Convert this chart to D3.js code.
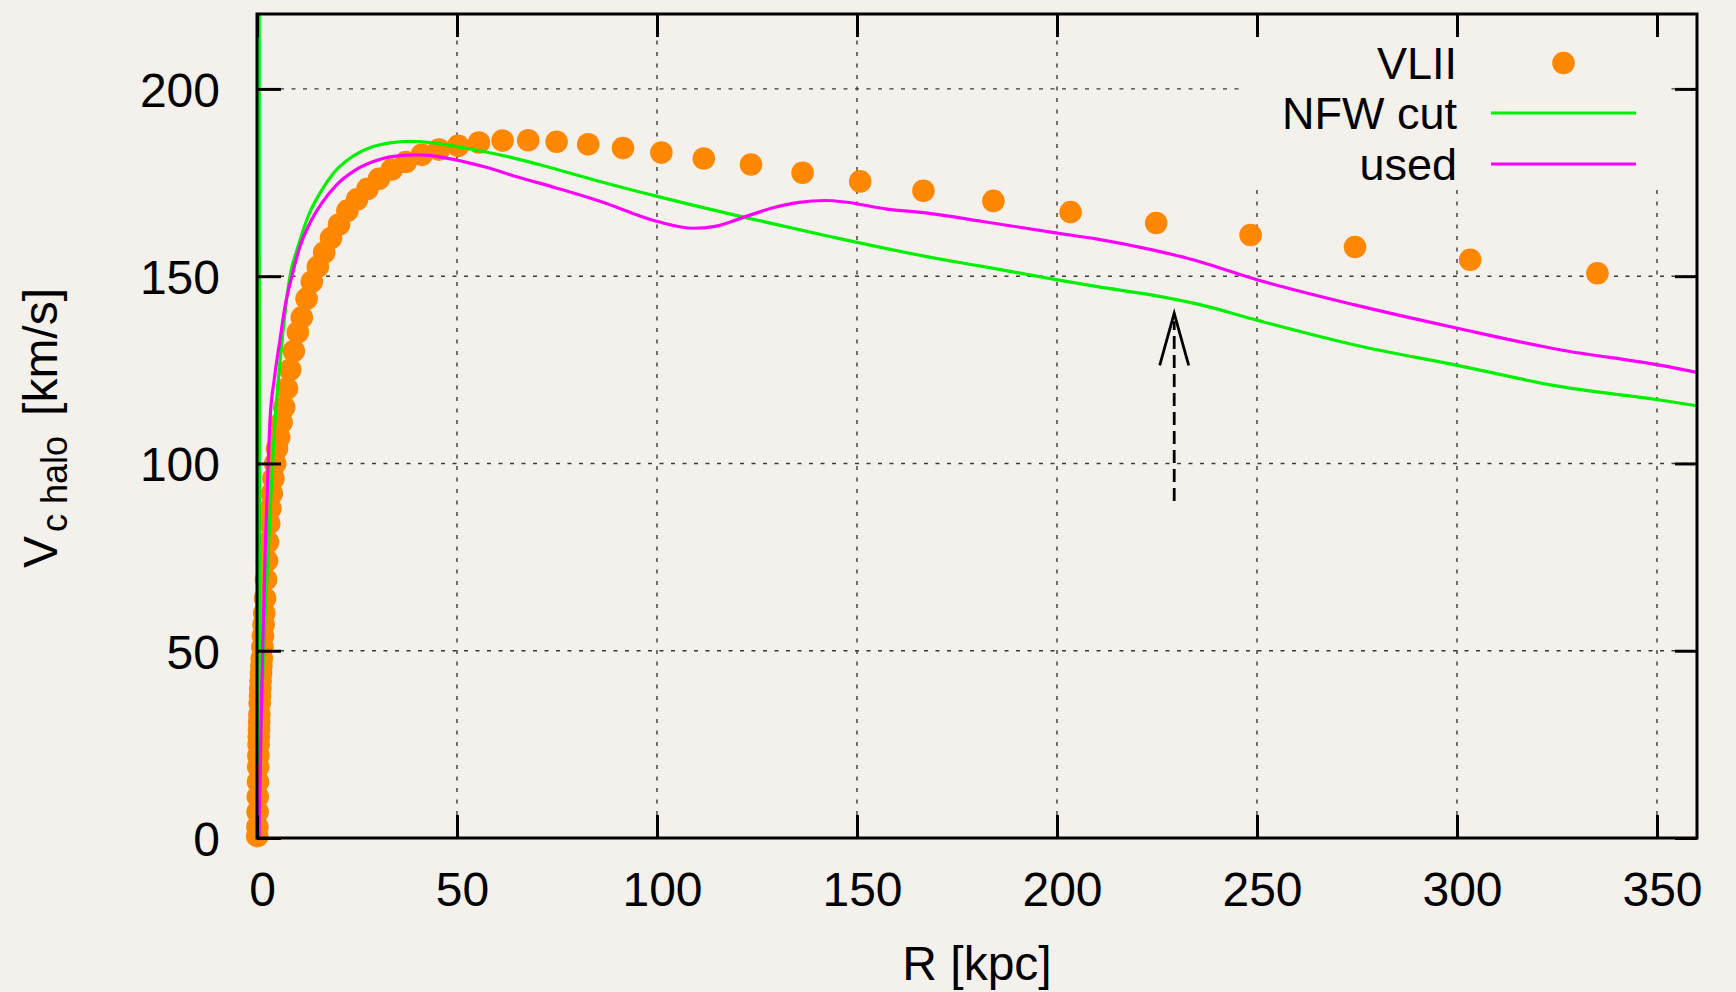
<!DOCTYPE html>
<html>
<head>
<meta charset="utf-8">
<script src="https://cdn.jsdelivr.net/npm/d3@7"></script>
<style>
  html, body { margin: 0; padding: 0; background: #f3f0eb; }
  svg { display: block; }
  text { font-family: "Liberation Sans", Arial, Helvetica, sans-serif; fill: #000; }
</style>
</head>
<body>
<svg id="chart" width="1736" height="992"></svg>
<script>
// ---- data ---------------------------------------------------------------
// VLII simulation: halo circular velocity (km/s) against radius R (kpc)
const vl2R = [0.05, 0.1, 0.15, 0.2, 0.25, 0.3, 0.35, 0.4, 0.45, 0.5,
              0.55, 0.6, 0.68, 0.75, 0.82, 0.9, 1.0, 1.1, 1.2, 1.35,
              1.5, 1.65, 1.8, 2.0, 2.25, 2.5, 2.75, 3.05, 3.35, 3.7,
              4.1, 4.55, 5.0, 5.55, 6.15, 6.8, 7.5, 8.3, 9.2, 10.2,
              11.2, 12.4, 13.7, 15.2, 16.8, 18.5, 20.5, 22.6, 25.0, 27.6,
              30.5, 33.7, 37.2, 41.2, 45.5, 50.3, 55.5, 61.4, 67.8, 74.9,
              82.8, 91.5, 101.1, 111.7, 123.5, 136.4, 150.8, 166.6, 184.1, 203.4,
              224.8, 248.4, 274.5, 303.3, 335.1];
const vl2V = [0.5, 3, 7, 11, 15, 19, 22, 25, 27, 29,
              31, 33, 36, 38, 40, 42, 44, 46, 48, 51,
              54, 57, 60, 64, 69, 74, 79, 84, 88, 92,
              96, 100, 104, 107, 111, 115, 120, 125, 130, 135,
              139, 144, 148.5, 152.5, 156.3, 160.2, 163.8, 167.5, 170.5, 173.3,
              176, 178.5, 180.5, 182.4, 183.8, 184.8, 185.7, 186.2, 186.3, 185.9,
              185.2, 184.2, 183.0, 181.4, 179.8, 177.6, 175.3, 172.8, 170.1, 167.1,
              164.2, 161.0, 157.8, 154.4, 150.8];

// NFW profile with cut-off
const nfwR = [0.55, 0.6, 1.0, 1.5, 2.0, 2.5, 3.0, 3.5, 4.0, 4.5,
              5.3, 6.2, 7.2, 8.25, 10.3, 12.8, 15.75, 19.1, 23.25, 28.25,
              33.25, 38.25, 43.25, 49.9, 56.6, 63.25, 75, 85.75, 100.1, 121.1,
              143.2, 167.1, 181.4, 200.1, 210.1, 223.5, 235.75, 250.2, 274.2, 300.1,
              326.0, 350.3, 360];
const nfwV = [240, 20, 30, 45, 58, 70, 81, 92, 102, 111,
              122, 132, 142, 150, 158, 166, 172.2, 177.5, 181.5, 184.3,
              185.6, 186.0, 185.7, 184.6, 183.3, 181.8, 178.5, 175.3, 171.3, 165.9,
              160.6, 155.3, 152.6, 149.0, 147.2, 145.0, 142.4, 138.2, 131.7, 126.2,
              120.5, 117.0, 115.4];

// profile actually used
const usedR = [0.5, 0.9, 1.4, 2.0, 2.8, 3.25, 4.3, 5.75, 7.0, 8.7,
               10.75, 13.25, 16.2, 19.9, 24.1, 29.1, 34.1, 39.9, 44.9, 51.6,
               58.25, 63.25, 75, 85.75, 100.1, 109.2, 114.5, 122.1, 128.8, 135.5,
               142.2, 147.0, 157.5, 167.1, 181.4, 200.1, 210.1, 223.5, 232.6, 250.2,
               274.2, 300.1, 326.0, 350.3, 360];
const usedV = [0, 24, 50, 75, 100, 111.6, 122.3, 133, 141.9, 149.9,
               157.9, 164.2, 169.5, 174.4, 178, 180.6, 182, 182.4, 182, 180.6,
               178.8, 177.1, 173.5, 170.0, 164.6, 162.8, 163.3, 165.9, 168.2, 169.7,
               170.2, 169.8, 167.9, 166.9, 164.6, 161.5, 159.9, 157.1, 154.8, 149.0,
               142.4, 136.1, 130.3, 126.3, 124.3];

const xTicks = [0, 50, 100, 150, 200, 250, 300, 350];
const yTicks = [0, 50, 100, 150, 200];
const seriesNames = ["VLII", "NFW cut", "used"];
const arrowR = 229.3;          // radius marked by the arrow
const arrowV = [90, 140.1];    // arrow tail and head (km/s)

// ---- layout -------------------------------------------------------------
const W = 1736, H = 992;
const M = { left: 257, right: 1697, top: 14, bottom: 838 };
const BG = "#f4f1ec";
const C = { vl2: "#ff8800", nfw: "#00f000", used: "#ff00ff" };

const x = d3.scaleLinear().domain([0, 360]).range([M.left, M.right]);
const y = d3.scaleLinear().domain([0, 220]).range([M.bottom, M.top]);

const svg = d3.select("#chart");
svg.append("rect").attr("width", W).attr("height", H).attr("fill", BG);

svg.append("defs").append("clipPath").attr("id", "plotClip")
  .append("rect")
  .attr("x", M.left).attr("y", M.top)
  .attr("width", M.right - M.left).attr("height", M.bottom - M.top);

// ---- grid ---------------------------------------------------------------
const grid = svg.append("g").attr("stroke", "#3a3a3a").attr("stroke-width", 1.4)
  .attr("stroke-dasharray", "4,7.5").attr("fill", "none");
grid.selectAll("line.gx").data(xTicks.filter(d => d > 0)).join("line")
  .attr("class", "gx")
  .attr("x1", d => x(d)).attr("x2", d => x(d))
  .attr("y1", M.bottom).attr("y2", M.top);
grid.selectAll("line.gy").data(yTicks.filter(d => d > 0)).join("line")
  .attr("class", "gy")
  .attr("x1", M.left).attr("x2", M.right)
  .attr("y1", d => y(d)).attr("y2", d => y(d));

// opaque key box over the grid
const key = { x0: 1245, x1: 1668, y0: M.top + 1, y1: 190 };
svg.append("rect")
  .attr("x", key.x0).attr("y", key.y0)
  .attr("width", key.x1 - key.x0).attr("height", key.y1 - key.y0)
  .attr("fill", BG);

// ---- data marks ---------------------------------------------------------
const vl2 = vl2R.map((r, i) => ({ r, v: vl2V[i] }));
const nfw = nfwR.map((r, i) => ({ r, v: nfwV[i] }));
const used = usedR.map((r, i) => ({ r, v: usedV[i] }));

svg.append("g").selectAll("circle").data(vl2).join("circle")
  .attr("cx", d => x(d.r)).attr("cy", d => y(d.v))
  .attr("r", 11.3).attr("fill", C.vl2);

const line = d3.line().x(d => x(d.r)).y(d => y(d.v)).curve(d3.curveMonotoneX);
const lines = svg.append("g").attr("clip-path", "url(#plotClip)")
  .attr("fill", "none").attr("stroke-width", 3.2)
  .attr("stroke-linejoin", "round");
lines.append("path").datum(nfw).attr("d", line).attr("stroke", C.nfw);
lines.append("path").datum(used).attr("d", line).attr("stroke", C.used);

// ---- arrow --------------------------------------------------------------
const ax = x(arrowR), ayTail = y(arrowV[0]), ayTip = y(arrowV[1]);
const arrow = svg.append("g").attr("stroke", "#000").attr("stroke-width", 2.8).attr("fill", "none");
arrow.append("line")
  .attr("x1", ax).attr("x2", ax).attr("y1", ayTail).attr("y2", ayTip + 8)
  .attr("stroke-dasharray", "13,6");
arrow.append("path")
  .attr("d", `M${ax - 14.5},${ayTip + 52}L${ax},${ayTip}L${ax + 14.5},${ayTip + 52}`)
  .attr("stroke-linejoin", "miter");

// ---- axes: inward ticks on all four sides -------------------------------
function styleAxis(g) {
  g.attr("font-size", null).attr("font-family", null);
  g.select(".domain").remove();
  g.selectAll(".tick line").attr("stroke", "#000").attr("stroke-width", 3);
  g.selectAll(".tick text").attr("font-size", 48).attr("fill", "#000");
}
svg.append("g").attr("transform", `translate(0,${M.bottom})`)
  .call(d3.axisBottom(x).tickValues(xTicks).tickSize(-23).tickPadding(34))
  .call(styleAxis)
  .call(g => g.selectAll(".tick text").attr("dx", 5));
svg.append("g").attr("transform", `translate(0,${M.top})`)
  .call(d3.axisTop(x).tickValues(xTicks).tickSize(-23).tickFormat(""))
  .call(styleAxis);
svg.append("g").attr("transform", `translate(${M.left},0)`)
  .call(d3.axisLeft(y).tickValues(yTicks).tickSize(-24).tickPadding(37))
  .call(styleAxis)
  .call(g => g.selectAll(".tick text").attr("dy", "0.36em"));
svg.append("g").attr("transform", `translate(${M.right},0)`)
  .call(d3.axisRight(y).tickValues(yTicks).tickSize(-22).tickFormat(""))
  .call(styleAxis);

// frame
svg.append("rect")
  .attr("x", M.left).attr("y", M.top)
  .attr("width", M.right - M.left).attr("height", M.bottom - M.top)
  .attr("fill", "none").attr("stroke", "#000").attr("stroke-width", 3);

// ---- key ----------------------------------------------------------------
const rowY = [63, 113, 164];
const keyTextX = 1457, keySample = [1491, 1636];
const keyG = svg.append("g");
keyG.selectAll("text").data(seriesNames).join("text")
  .attr("x", keyTextX).attr("y", (d, i) => rowY[i]).attr("dy", "0.36em")
  .attr("text-anchor", "end").attr("font-size", 45)
  .text(d => d);
keyG.append("circle")
  .attr("cx", (keySample[0] + keySample[1]) / 2).attr("cy", rowY[0])
  .attr("r", 11.3).attr("fill", C.vl2);
[[C.nfw, 1], [C.used, 2]].forEach(([col, i]) => {
  keyG.append("line")
    .attr("x1", keySample[0]).attr("x2", keySample[1])
    .attr("y1", rowY[i]).attr("y2", rowY[i])
    .attr("stroke", col).attr("stroke-width", 3.2);
});

// ---- axis titles --------------------------------------------------------
svg.append("text")
  .attr("x", (M.left + M.right) / 2).attr("y", 980)
  .attr("text-anchor", "middle").attr("font-size", 48)
  .text("R [kpc]");

const yt = svg.append("text")
  .attr("transform", `translate(57,${(M.top + M.bottom) / 2 + 2}) rotate(-90)`)
  .attr("text-anchor", "middle").attr("font-size", 48);
yt.append("tspan").text("V");
yt.append("tspan").attr("font-size", 36).attr("dy", 10).attr("dx", 4).text("c halo");
yt.append("tspan").attr("dy", -10).attr("dx", 20).text("[km/s]");
</script>
</body>
</html>
